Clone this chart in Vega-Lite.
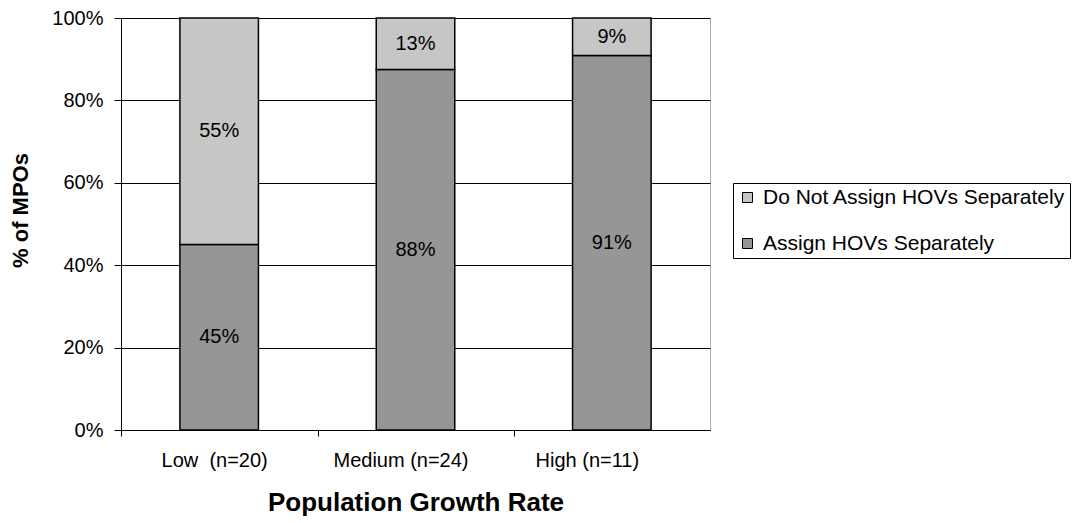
{
  "$schema": "https://vega.github.io/schema/vega-lite/v6.json",
  "width": 589,
  "height": 412,
  "autosize": {"type": "none"},
  "padding": {"left": 121, "top": 18, "right": 366, "bottom": 93},
  "background": "white",
  "config": {
    "font": "Liberation Sans",
    "view": {"stroke": "#b0b0b0", "strokeWidth": 1},
    "axis": {"labelFont": "Liberation Sans", "titleFont": "Liberation Sans", "labelColor": "black", "titleColor": "black", "domainColor": "black", "tickColor": "black"}
  },
  "data": {
    "values": [
      {"category": "Low \u00a0(n=20)", "series": "Assign HOVs Separately", "value": 0.45, "label": "45%"},
      {"category": "Low \u00a0(n=20)", "series": "Do Not Assign HOVs Separately", "value": 0.55, "label": "55%"},
      {"category": "Medium (n=24)", "series": "Assign HOVs Separately", "value": 0.875, "label": "88%"},
      {"category": "Medium (n=24)", "series": "Do Not Assign HOVs Separately", "value": 0.125, "label": "13%"},
      {"category": "High (n=11)", "series": "Assign HOVs Separately", "value": 0.909, "label": "91%"},
      {"category": "High (n=11)", "series": "Do Not Assign HOVs Separately", "value": 0.091, "label": "9%"}
    ]
  },
  "transform": [
    {"stack": "value", "groupby": ["category"], "sort": [{"field": "series", "order": "ascending"}], "as": ["v0", "v1"]},
    {"calculate": "(datum.v0 + datum.v1) / 2", "as": "mid"}
  ],
  "encoding": {
    "x": {
      "field": "category",
      "type": "nominal",
      "sort": ["Low \u00a0(n=20)", "Medium (n=24)", "High (n=11)"],
      "scale": {"paddingInner": 0.6, "paddingOuter": 0.3},
      "axis": {
        "title": "Population Growth Rate",
        "titleFontSize": 26,
        "titleFontWeight": "bold",
        "titlePadding": 19,
        "labelFontSize": 20,
        "labelAngle": 0,
        "labelPadding": 14,
        "tickSize": 6,
        "tickOffset": -98,
        "labelOffset": {
          "condition": [
            {"test": "datum.value === 'Medium (n=24)'", "value": 83},
            {"test": "datum.value === 'High (n=11)'", "value": 73}
          ],
          "value": 93
        },
        "domainWidth": 1
      }
    }
  },
  "layer": [
    {
      "mark": {"type": "bar", "stroke": "black", "strokeWidth": 1.5},
      "encoding": {
        "y": {
          "field": "v0",
          "type": "quantitative",
          "scale": {"domain": [0, 1], "nice": false},
          "axis": {
            "title": "% of MPOs",
            "titleFontSize": 22,
            "titleFontWeight": "bold",
            "titleX": -101,
            "titleY": 192,
            "titleBaseline": "middle",
            "titleAlign": "center",
            "format": ".0%",
            "values": [0, 0.2, 0.4, 0.6, 0.8, 1],
            "labelFontSize": 20,
            "labelPadding": 11,
            "tickSize": 7,
            "grid": true,
            "gridColor": "black",
            "gridOpacity": 1,
            "gridWidth": 1
          }
        },
        "y2": {"field": "v1"},
        "color": {
          "field": "series",
          "type": "nominal",
          "scale": {"domain": ["Do Not Assign HOVs Separately", "Assign HOVs Separately"], "range": ["#c6c6c6", "#969696"]},
          "legend": {
            "title": null,
            "orient": "none",
            "legendX": 612,
            "legendY": 165,
            "strokeColor": "black",
            "padding": 4,
            "labelFont": "Liberation Sans",
            "labelFontSize": 21,
            "labelColor": "black",
            "symbolType": "square",
            "symbolSize": 100,
            "symbolStrokeColor": "black",
            "symbolStrokeWidth": 1,
            "rowPadding": 24,
            "labelOffset": 5,
            "labelLimit": 400
          }
        }
      }
    },
    {
      "mark": {"type": "text", "fontSize": 20, "color": "black", "baseline": "middle", "align": "center"},
      "encoding": {
        "y": {"field": "mid", "type": "quantitative"},
        "text": {"field": "label"}
      }
    }
  ]
}
